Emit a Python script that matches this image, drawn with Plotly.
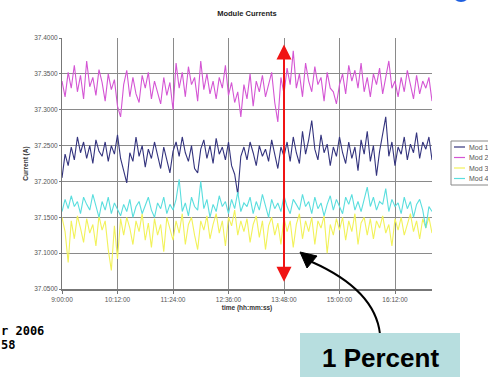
import pandas as pd
import plotly.graph_objects as go

# ---------------- data ----------------
START = "2006-01-01 09:00:00"
STEP_MIN = 4
TICK_LABELS = ["9:00:00", "10:12:00", "11:24:00", "12:36:00", "13:48:00", "15:00:00", "16:12:00"]
SERIES_NAMES = ["Mod 1", "Mod 2", "Mod 3", "Mod 4"]

mod1 = [37.205, 37.238, 37.222, 37.248, 37.230, 37.262, 37.240, 37.255, 37.232, 37.250,
        37.225, 37.258, 37.242, 37.235, 37.255, 37.228, 37.250, 37.238, 37.265, 37.232,
        37.215, 37.198, 37.240, 37.228, 37.262, 37.235, 37.250, 37.220, 37.245, 37.232,
        37.255, 37.238, 37.218, 37.248, 37.230, 37.212, 37.242, 37.255, 37.235, 37.262,
        37.240, 37.228, 37.250, 37.218, 37.212, 37.245, 37.258, 37.232, 37.250, 37.225,
        37.260, 37.238, 37.248, 37.230, 37.255, 37.222, 37.210, 37.182, 37.235, 37.248,
        37.230, 37.255, 37.240, 37.222, 37.250, 37.235, 37.245, 37.228, 37.258, 37.238,
        37.218, 37.248, 37.235, 37.255, 37.228, 37.262, 37.240, 37.225, 37.270, 37.238,
        37.258, 37.285, 37.245, 37.230, 37.265, 37.240, 37.252, 37.222, 37.248, 37.235,
        37.262, 37.240, 37.225, 37.255, 37.232, 37.248, 37.215, 37.258, 37.238, 37.270,
        37.228, 37.250, 37.208, 37.242, 37.265, 37.290, 37.235, 37.255, 37.222, 37.248,
        37.238, 37.262, 37.230, 37.252, 37.240, 37.268, 37.232, 37.255, 37.245, 37.262, 37.230]

mod2 = [37.340, 37.318, 37.352, 37.330, 37.362, 37.325, 37.348, 37.315, 37.368, 37.332,
        37.345, 37.320, 37.356, 37.338, 37.312, 37.350, 37.328, 37.342, 37.305, 37.290,
        37.335, 37.355, 37.318, 37.345, 37.322, 37.310, 37.348, 37.330, 37.352, 37.315,
        37.340, 37.325, 37.308, 37.345, 37.320, 37.338, 37.300, 37.365, 37.330, 37.352,
        37.318, 37.360, 37.335, 37.345, 37.312, 37.368, 37.328, 37.350, 37.322, 37.340,
        37.315, 37.345, 37.330, 37.362, 37.320, 37.338, 37.310, 37.325, 37.290, 37.335,
        37.315, 37.350, 37.305, 37.340, 37.325, 37.348, 37.318, 37.335, 37.352, 37.310,
        37.283, 37.345, 37.322, 37.358, 37.335, 37.382, 37.330, 37.350, 37.318, 37.365,
        37.340, 37.325, 37.360, 37.335, 37.345, 37.312, 37.352, 37.330, 37.325, 37.308,
        37.335, 37.350, 37.322, 37.362, 37.340, 37.355, 37.330, 37.365, 37.325, 37.345,
        37.318, 37.350, 37.335, 37.358, 37.322, 37.345, 37.368, 37.330, 37.340, 37.318,
        37.345, 37.325, 37.355, 37.335, 37.315, 37.348, 37.322, 37.340, 37.330, 37.345, 37.312]

mod3 = [37.150, 37.130, 37.087, 37.145, 37.120, 37.152, 37.135, 37.115, 37.148, 37.128,
        37.140, 37.110, 37.152, 37.132, 37.145, 37.105, 37.076, 37.138, 37.092, 37.148,
        37.125, 37.150, 37.135, 37.112, 37.145, 37.130, 37.155, 37.118, 37.142, 37.108,
        37.148, 37.125, 37.140, 37.102, 37.150, 37.132, 37.118, 37.145, 37.128, 37.155,
        37.112, 37.140, 37.150, 37.125, 37.105, 37.145, 37.132, 37.152, 37.120, 37.140,
        37.155, 37.128, 37.145, 37.110, 37.150, 37.138, 37.160, 37.125, 37.145, 37.130,
        37.148, 37.115, 37.140, 37.152, 37.122, 37.145, 37.105, 37.138, 37.150, 37.125,
        37.142, 37.112, 37.150, 37.130, 37.145, 37.108, 37.140, 37.155, 37.120, 37.145,
        37.130, 37.150, 37.112, 37.145, 37.135, 37.152, 37.100, 37.140, 37.125, 37.148,
        37.132, 37.150, 37.118, 37.145, 37.130, 37.155, 37.112, 37.142, 37.150, 37.125,
        37.148, 37.120, 37.145, 37.135, 37.152, 37.128, 37.140, 37.110, 37.148, 37.132,
        37.150, 37.125, 37.142, 37.155, 37.130, 37.145, 37.120, 37.148, 37.135, 37.150, 37.128]

mod4 = [37.158, 37.175, 37.162, 37.180, 37.165, 37.172, 37.155, 37.178, 37.168, 37.160,
        37.182, 37.165, 37.150, 37.172, 37.160, 37.178, 37.155, 37.170, 37.162, 37.152,
        37.168, 37.158, 37.175, 37.150, 37.165, 37.172, 37.155, 37.168, 37.178, 37.160,
        37.150, 37.170, 37.162, 37.178, 37.155, 37.168, 37.160, 37.175, 37.203, 37.158,
        37.170, 37.152, 37.178, 37.165, 37.160, 37.200, 37.162, 37.175, 37.150, 37.168,
        37.158, 37.180, 37.165, 37.172, 37.155, 37.175, 37.162, 37.185, 37.158, 37.170,
        37.165, 37.178, 37.155, 37.172, 37.160, 37.182, 37.165, 37.150, 37.175, 37.162,
        37.170, 37.158, 37.180, 37.165, 37.155, 37.175, 37.168, 37.160, 37.182, 37.165,
        37.172, 37.155, 37.178, 37.162, 37.170, 37.152, 37.168, 37.180, 37.160, 37.175,
        37.165, 37.155, 37.178, 37.168, 37.182, 37.160, 37.172, 37.158, 37.175, 37.192,
        37.165, 37.178, 37.160, 37.172, 37.168, 37.190, 37.158, 37.175, 37.165, 37.170,
        37.155, 37.178, 37.162, 37.172, 37.150, 37.168, 37.175, 37.160, 37.135, 37.165, 37.158]

SERIES = [mod1, mod2, mod3, mod4]
COLORS = ["#34347e", "#d456d4", "#f2f25a", "#5adede"]

# ---------------- figure ----------------
W, H = 488, 377
ML, MR, MT, MB = 62, 56, 38, 88
PW, PH = W - ML - MR, H - MT - MB


def px(x):
    return (x - ML) / PW


def py(y):
    return (H - MB - y) / PH


DAY = START.split(" ")[0]
fig = go.Figure()
for name, vals, col in zip(SERIES_NAMES, SERIES, COLORS):
    t = pd.date_range(START, periods=len(vals), freq=f"{STEP_MIN}min")
    fig.add_trace(go.Scatter(x=t, y=vals, mode="lines", name=name,
                             line=dict(color=col, width=1.1), showlegend=False))

tickvals = [f"{DAY} {lab}" for lab in TICK_LABELS]
x_end = pd.Timestamp(START) + pd.Timedelta(minutes=STEP_MIN * (len(mod1) - 1))

FONT = "Liberation Sans, Arial, sans-serif"
GRID = "#8a8a8a"

fig.update_layout(
    width=W, height=H,
    margin=dict(l=ML, r=MR, t=MT, b=MB),
    paper_bgcolor="white", plot_bgcolor="white",
    font=dict(family=FONT, size=7, color="#555"),
    hovermode=False,
    title=dict(text="<b>Module Currents</b>", x=0.5, xref="paper", xanchor="center",
               y=1 - 13 / H, yanchor="middle", font=dict(size=7.5, color="#222")),
    xaxis=dict(
        type="date", range=[pd.Timestamp(START), x_end],
        tickvals=tickvals, ticktext=TICK_LABELS,
        showgrid=True, gridcolor=GRID, gridwidth=1,
        showline=True, linecolor="#777", linewidth=2,
        ticks="outside", ticklen=3, tickcolor="#777",
        tickfont=dict(size=6.5, color="#555"),
        title=dict(text="<b>time (hh:mm:ss)</b>", font=dict(size=6.5, color="#333"), standoff=4),
        zeroline=False,
    ),
    yaxis=dict(
        range=[37.05, 37.40], tick0=37.05, dtick=0.05, tickformat=".4f",
        showgrid=True, gridcolor=GRID, gridwidth=1,
        showline=True, linecolor="#777", linewidth=1,
        ticks="outside", ticklen=2, tickcolor="#777",
        tickfont=dict(size=6.5, color="#555"),
        title=dict(text="<b>Current (A)</b>", font=dict(size=6.5, color="#333"), standoff=4),
        zeroline=False,
    ),
)

# ---- manual legend (compact like the original) ----
legend_rows = [147, 157.5, 168, 178.5]
fig.add_shape(type="rect", xref="paper", yref="paper",
              x0=px(451), x1=px(495), y0=py(185), y1=py(141),
              line=dict(color="#888", width=1), fillcolor="white", layer="above")
for name, col, yy in zip(SERIES_NAMES, COLORS, legend_rows):
    fig.add_shape(type="line", xref="paper", yref="paper",
                  x0=px(454), x1=px(465), y0=py(yy), y1=py(yy),
                  line=dict(color=col, width=1.2), layer="above")
    fig.add_annotation(xref="paper", yref="paper", x=px(467), y=py(yy),
                       xanchor="left", yanchor="middle", showarrow=False,
                       text=name, font=dict(size=7, color="#555"))

# ---- red double arrow at 13:48 ----
arrow_t = f"{DAY} {TICK_LABELS[4]}"
fig.add_annotation(x=arrow_t, y=37.391, ax=arrow_t, ay=37.058,
                   xref="x", yref="y", axref="x", ayref="y",
                   text="", showarrow=True, arrowside="end+start",
                   arrowhead=2, arrowsize=1.5, arrowwidth=2, arrowcolor="#f01414")

# ---- curved black pointer arrow ----
fig.add_shape(type="path", xref="paper", yref="paper",
              path=f"M {px(312)},{py(262)} Q {px(375)},{py(290)} {px(380)},{py(334)}",
              line=dict(color="black", width=2), layer="above")
fig.add_shape(type="path", xref="paper", yref="paper",
              path=f"M {px(300)},{py(252)} L {px(317)},{py(256)} L {px(307)},{py(268)} Z",
              line=dict(color="black", width=1), fillcolor="black", layer="above")

# ---- "1 Percent" box ----
fig.add_shape(type="rect", xref="paper", yref="paper",
              x0=px(300), x1=px(460), y0=py(380), y1=py(333),
              line=dict(width=0), fillcolor="#b7dedf", layer="above")
fig.add_annotation(xref="paper", yref="paper", x=px(380), y=py(358),
                   xanchor="center", yanchor="middle", showarrow=False,
                   text="<b>1 Percent</b>",
                   font=dict(family=FONT, size=26, color="black"))

# ---- clipped slide text at bottom left ----
fig.add_annotation(xref="paper", yref="paper", x=px(-1), y=py(331),
                   xanchor="left", yanchor="middle", showarrow=False,
                   text="<b>r 2006</b>",
                   font=dict(family="DejaVu Sans Mono, monospace", size=12, color="black"))
fig.add_annotation(xref="paper", yref="paper", x=px(-1), y=py(345),
                   xanchor="left", yanchor="middle", showarrow=False,
                   text="<b>58</b>",
                   font=dict(family="DejaVu Sans Mono, monospace", size=12, color="black"))

# ---- partial blue disc at top right ----
fig.add_shape(type="circle", xref="paper", yref="paper",
              x0=px(452), x1=px(470), y0=py(2), y1=py(-16),
              line=dict(width=0), fillcolor="#1e5fe0", layer="above")

fig.write_html(
    "out.html",
    config={"displayModeBar": False, "staticPlot": True},
    post_script="document.body.style.margin='0';document.body.style.padding='0';"
                "document.documentElement.style.overflow='hidden';",
)
